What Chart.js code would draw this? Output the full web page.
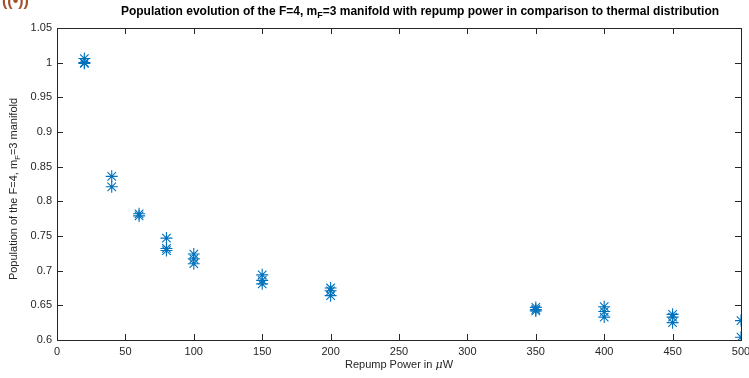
<!DOCTYPE html>
<html>
<head>
<meta charset="utf-8">
<script src="https://cdn.jsdelivr.net/npm/chart.js@4.4.1/dist/chart.umd.min.js"></script>
<style>
  html, body { margin: 0; padding: 0; background: #ffffff; }
  #wrap { width: 749px; height: 378px; position: relative; }
</style>
</head>
<body>
<div id="wrap"><canvas id="c" width="749" height="378"></canvas></div>
<script>
// ---- data ----
const repumpPower = [20, 20, 20, 40, 40, 60, 60, 80, 80, 80, 100, 100, 100, 150, 150, 150, 200, 200, 200, 350, 350, 350, 400, 400, 400, 450, 450, 450, 500, 500];
const population  = [1.006, 1.000, 0.999, 0.836, 0.821, 0.782, 0.779, 0.747, 0.732, 0.729, 0.724, 0.717, 0.710, 0.694, 0.686, 0.681, 0.675, 0.671, 0.664, 0.647, 0.644, 0.642, 0.648, 0.641, 0.633, 0.637, 0.633, 0.625, 0.628, 0.604];
const xTickValues = [0, 50, 100, 150, 200, 250, 300, 350, 400, 450, 500];
const yTickValues = [0.6, 0.65, 0.7, 0.75, 0.8, 0.85, 0.9, 0.95, 1, 1.05];
const titleParts  = [["Population evolution of the F=4, m", false], ["F", true], ["=3 manifold with repump power in comparison to thermal distribution", false]];
const yLabelParts = [["Population of the F=4, m", false], ["F", true], ["=3 manifold", false]];
const xLabelParts = [["Repump Power in ", false], ["\u03bc", "it"], ["W", false]];

const points = repumpPower.map((x, i) => ({ x: x, y: population[i] }));
const AX = '#262626';
const FONT = '"Liberation Sans", Arial, Helvetica, sans-serif';

function drawParts(ctx, parts, size, bold, cx, cy) {
  const base = (bold ? 'bold ' : '') + size + 'px ' + FONT;
  const subSize = Math.round(size * 0.75);
  const widths = parts.map(([t, m]) => {
    if (m === true) ctx.font = (bold ? 'bold ' : '') + subSize + 'px ' + FONT;
    else if (m === 'it') ctx.font = 'italic ' + size + 'px "DejaVu Serif", serif';
    else ctx.font = base;
    return ctx.measureText(t).width;
  });
  const total = widths.reduce((a, b) => a + b, 0);
  let x = cx - total / 2;
  ctx.textBaseline = 'middle';
  ctx.textAlign = 'left';
  parts.forEach(([t, m], i) => {
    let y = cy;
    if (m === true) { ctx.font = (bold ? 'bold ' : '') + subSize + 'px ' + FONT; y = cy + size * 0.3; }
    else if (m === 'it') ctx.font = 'italic ' + size + 'px "DejaVu Serif", serif';
    else ctx.font = base;
    ctx.fillText(t, x, y);
    x += widths[i];
  });
}

const decorPlugin = {
  id: 'decor',
  afterDraw(chart) {
    const ctx = chart.ctx;
    const a = chart.chartArea;
    const xs = chart.scales.x, ys = chart.scales.y;
    ctx.save();
    // box
    ctx.strokeStyle = AX;
    ctx.lineWidth = 1;
    ctx.strokeRect(Math.round(a.left) + 0.5, Math.round(a.top) + 0.5, Math.round(a.right - a.left), Math.round(a.bottom - a.top));
    // inward ticks
    const tl = 6;
    ctx.beginPath();
    xTickValues.forEach(v => {
      const px = Math.round(xs.getPixelForValue(v)) + 0.5;
      ctx.moveTo(px, a.bottom); ctx.lineTo(px, a.bottom - tl);
      ctx.moveTo(px, a.top); ctx.lineTo(px, a.top + tl);
    });
    yTickValues.forEach(v => {
      const py = Math.round(ys.getPixelForValue(v)) + 0.5;
      ctx.moveTo(a.left, py); ctx.lineTo(a.left + tl, py);
      ctx.moveTo(a.right, py); ctx.lineTo(a.right - tl, py);
    });
    ctx.stroke();
    // title
    ctx.fillStyle = '#000000';
    drawParts(ctx, titleParts, 12, true, 420, 12);
    // x label
    ctx.fillStyle = AX;
    drawParts(ctx, xLabelParts, 11, false, (a.left + a.right) / 2, 365);
    // y label
    ctx.translate(14, 189);
    ctx.rotate(-Math.PI / 2);
    drawParts(ctx, yLabelParts, 11, false, 0, 0);
    ctx.restore();
    // clipped corner glyph
    ctx.save();
    ctx.fillStyle = '#a0522d';
    ctx.font = 'bold 16px ' + FONT;
    ctx.textAlign = 'left';
    ctx.textBaseline = 'alphabetic';
    ctx.fillText('((\u2022))', 2, 6);
    ctx.restore();
  }
};

function noPad(s) { s.paddingLeft = 0; s.paddingRight = 0; s.paddingTop = 0; s.paddingBottom = 0; }
const hiddenGrid = { display: true, drawOnChartArea: false, drawTicks: false, color: 'rgba(0,0,0,0)' };

new Chart(document.getElementById('c'), {
  type: 'scatter',
  data: {
    datasets: [{
      data: points,
      pointStyle: 'star',
      radius: 6,
      hoverRadius: 6,
      borderColor: '#0072BD',
      backgroundColor: '#0072BD',
      borderWidth: 1.1
    }]
  },
  options: {
    responsive: false,
    animation: false,
    devicePixelRatio: 1,
    layout: { padding: { top: 28, right: 8, left: 0, bottom: 0 } },
    plugins: { legend: { display: false }, tooltip: { enabled: false }, title: { display: false } },
    scales: {
      x: {
        type: 'linear', min: 0, max: 500,
        afterFit(s) { s.height = 38; noPad(s); },
        afterBuildTicks(s) { s.ticks = xTickValues.map(v => ({ value: v })); },
        grid: hiddenGrid,
        border: { display: false },
        ticks: { color: AX, font: { family: FONT, size: 11 }, padding: 5, maxRotation: 0, autoSkip: false,
                 callback: v => String(v) }
      },
      y: {
        type: 'linear', min: 0.6, max: 1.05,
        afterFit(s) { s.width = 57; noPad(s); },
        afterBuildTicks(s) { s.ticks = yTickValues.map(v => ({ value: v })); },
        grid: hiddenGrid,
        border: { display: false },
        ticks: { color: AX, font: { family: FONT, size: 11 }, padding: 5, autoSkip: false,
                 callback: v => String(parseFloat(Number(v).toFixed(2))) }
      }
    }
  },
  plugins: [decorPlugin]
});
</script>
</body>
</html>
